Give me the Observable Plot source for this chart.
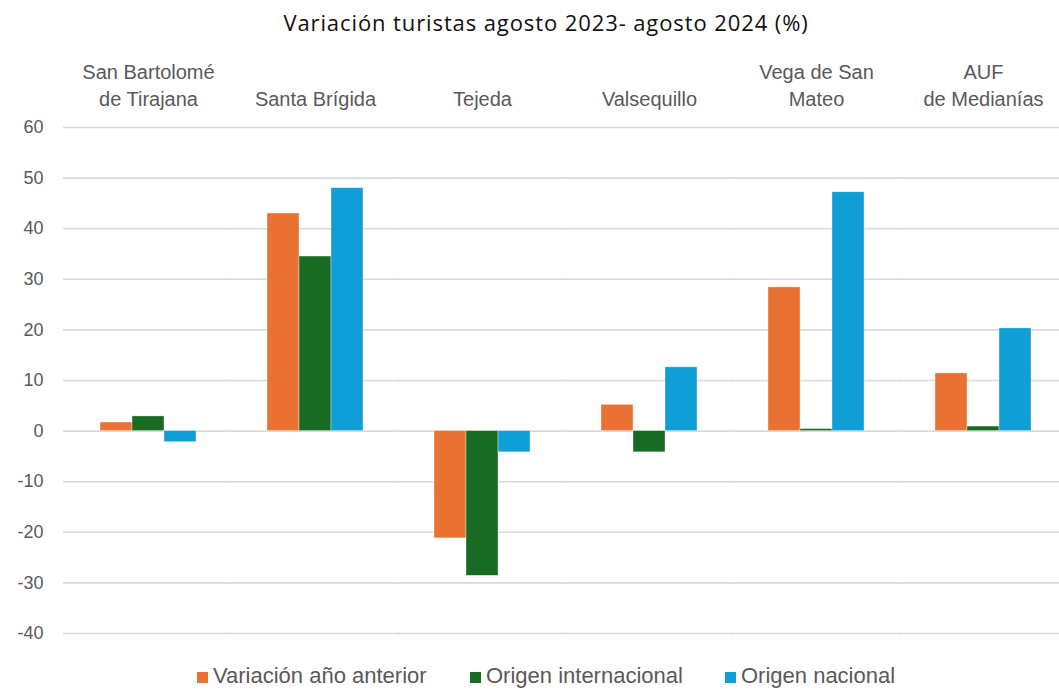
<!DOCTYPE html>
<html><head><meta charset="utf-8">
<script src="https://cdn.jsdelivr.net/npm/d3@7"></script>
<script src="https://cdn.jsdelivr.net/npm/@observablehq/plot@0.6"></script>
<style>
body{margin:0;background:#fff;font-family:"Liberation Sans",Arial,sans-serif;width:1059px;height:690px;overflow:hidden;position:relative}
#title{height:40px;line-height:44px;text-align:center;font-size:22px;letter-spacing:0.9px;color:#111;padding-left:33px;font-family:"Open Sans",sans-serif}
#chart svg{display:block}
.lg{position:absolute;top:662px;font-size:22px;color:#595959;white-space:nowrap;line-height:27px}
.lg span{position:absolute;left:0;top:10px;width:11px;height:11px}
</style></head><body>
<div id="title">Variación turistas agosto 2023- agosto 2024 (%)</div>
<div id="chart"></div>
<div id="legend"></div>
<script>
const categories = ["San Bartolomé\nde Tirajana","Santa Brígida","Tejeda","Valsequillo","Vega de San\nMateo","AUF\nde Medianías"];
const series = ["Variación año anterior","Origen internacional","Origen nacional"];
const variacion = [1.7, 43.0, -21.2, 5.2, 28.4, 11.4];
const internacional = [2.9, 34.5, -28.6, -4.2, 0.4, 0.9];
const nacional = [-2.2, 48.0, -4.2, 12.6, 47.2, 20.3];
const yTicks = [-40,-30,-20,-10,0,10,20,30,40,50,60];
const colors = ["#E97132","#196B24","#0F9ED5"];
const legendLeft = [197, 470, 725];

const seriesValues = [variacion, internacional, nacional];
const data = categories.flatMap((c,i)=>series.map((s,j)=>({category:c, serie:s, value:seriesValues[j][i]})));

const chart = Plot.plot({
  width:1059, height:610, marginTop:87, marginBottom:17, marginLeft:62, marginRight:0,
  style:{fontFamily:'"Liberation Sans",Arial,sans-serif', color:"#595959", background:"white", overflow:"visible"},
  fx:{domain:categories, range:[62,1068], paddingInner:0.415, paddingOuter:0.215, label:null},
  x:{domain:series, padding:0, axis:null},
  y:{domain:[-40,60], label:null},
  color:{domain:series, range:colors},
  marks:[
    Plot.ruleY(yTicks, {stroke:"#d9d9d9", strokeWidth:1.6, insetLeft:-36, insetRight:-36}),
    Plot.barY(data,{fx:"category", x:"serie", y:"value", fill:"serie", stroke:"white", strokeWidth:0.6, strokeOpacity:0.6}),
    Plot.axisY(yTicks, {tickSize:0, tickPadding:56, fontSize:18, label:null, tickFormat:d=>String(d)}),
    Plot.axisFx({anchor:"top", tickSize:0, tickPadding:22, fontSize:20, lineHeight:1.35, label:null})
  ]
});
document.getElementById("chart").appendChild(chart);

const lg = document.getElementById("legend");
series.forEach((s,j)=>{
  const d = document.createElement("div");
  d.className="lg"; d.style.left=legendLeft[j]+"px"; d.style.paddingLeft="16px";
  d.innerHTML = `<span style="background:${colors[j]}"></span>${s}`;
  lg.appendChild(d);
});
</script>
</body></html>
